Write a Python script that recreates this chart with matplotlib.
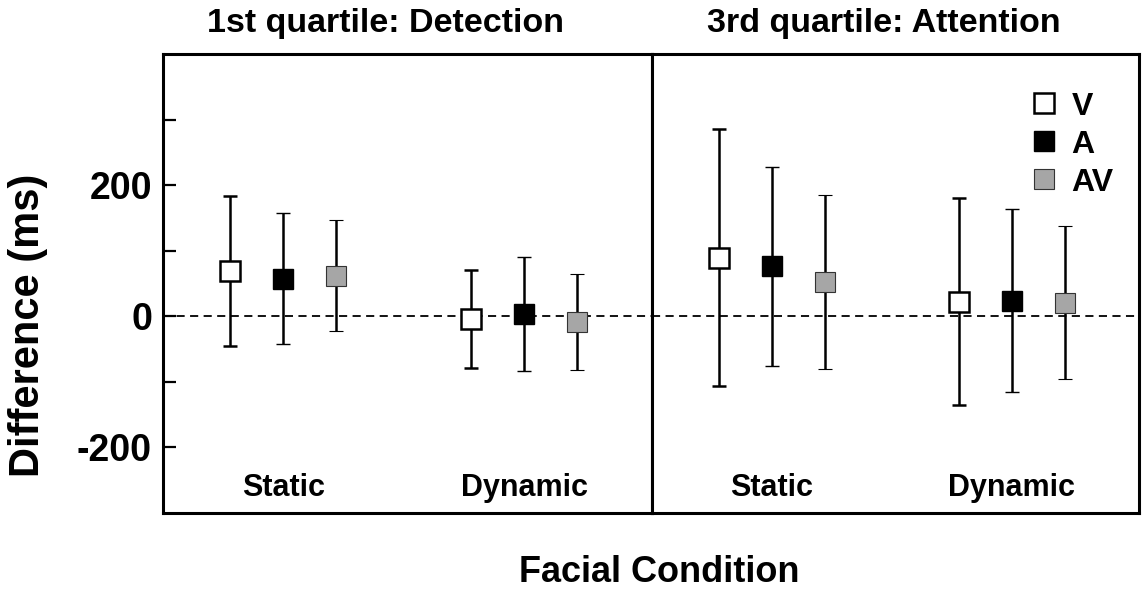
"""Difference in response time by facial condition, two quartile panels."""

import matplotlib

matplotlib.use("Agg")
import matplotlib.pyplot as plt
from matplotlib.lines import Line2D

plt.rcParams["font.family"] = ["Liberation Sans", "DejaVu Sans"]
plt.rcParams["font.weight"] = "bold"
plt.rcParams["axes.unicode_minus"] = False

conditions = ["Static", "Dynamic"]
groups = ["V", "A", "AV"]
offsets = [-0.22, 0.0, 0.22]

# 1st quartile (Detection): means and half-width of error bars, per group
q1_means = [[69, -4], [57, 3], [62, -9]]
q1_err = [[114, 75], [100, 87], [85, 73]]

# 3rd quartile (Attention)
q3_means = [[89, 22], [76, 24], [52, 21]]
q3_err = [[196, 158], [152, 140], [133, 117]]

panel_titles = ["1st quartile: Detection", "3rd quartile: Attention"]

face_colors = ["white", "black", "#a6a6a6"]
edge_colors = ["black", "black", "#333333"]
edge_widths = [1.8, 1.0, 0.8]


def draw_panel(ax, means, errs):
    xs = range(1, len(conditions) + 1)
    ax.axhline(0, color="black", lw=1.3, ls=(0, (4.5, 3)), zorder=1)
    for i in range(len(groups)):
        ax.errorbar(
            [x + offsets[i] for x in xs], means[i], yerr=errs[i],
            fmt="s", ms=15, mfc=face_colors[i], mec=edge_colors[i], mew=edge_widths[i],
            ecolor="black", elinewidth=1.8, capsize=5.2, capthick=2.0, zorder=3,
        )
    for x, name in zip(xs, conditions):
        ax.text(x, 0.037, name, transform=ax.get_xaxis_transform(),
                ha="center", va="baseline", fontsize=22, fontweight="bold")
    ax.set_xlim(0.5, 2.53)
    ax.set_ylim(-300, 400)
    ax.set_xticks([])
    for s in ax.spines.values():
        s.set_linewidth(2.2)


fig = plt.figure(figsize=(11.45, 5.96), dpi=100)
W, H = 1145, 596
ax1 = fig.add_axes([163 / W, 1 - 513 / H, (652 - 163) / W, (513 - 54) / H])
ax2 = fig.add_axes([652 / W, 1 - 513 / H, (1139 - 652) / W, (513 - 54) / H])

draw_panel(ax1, q1_means, q1_err)
draw_panel(ax2, q3_means, q3_err)

ax1.set_yticks([-200, 0, 200])
ax1.set_yticks([-100, 100, 300], minor=True)
ax1.tick_params(axis="y", which="both", direction="in", length=9.5, width=1.6,
                pad=8, labelsize=27)
ax1.tick_params(axis="y", which="minor", labelleft=False)
for lab in ax1.get_yticklabels():
    lab.set_fontweight("bold")
ax2.set_yticks([])

ax1.text(0.454, 1.048, panel_titles[0], transform=ax1.transAxes,
         ha="center", va="baseline", fontsize=24.5, fontweight="bold")
ax2.text(0.475, 1.048, panel_titles[1], transform=ax2.transAxes,
         ha="center", va="baseline", fontsize=24.5, fontweight="bold")

handles = [
    Line2D([0], [0], marker="s", ls="none", ms=15, mfc=face_colors[i],
           mec=edge_colors[i], mew=edge_widths[i], label=groups[i])
    for i in range(len(groups))
]
leg = ax2.legend(handles=handles, loc="upper left", bbox_to_anchor=(0.773, 0.918),
                 frameon=False, handlelength=1.0, handletextpad=0.35, labelspacing=0.25,
                 borderpad=0, borderaxespad=0, prop={"size": 23, "weight": "bold"})

fig.text(28 / W, 1 - 325 / H, "Difference (ms)", rotation=90, ha="center",
         va="center", fontsize=30, fontweight="bold")
fig.text(659 / W, 1 - 582 / H, "Facial Condition", ha="center", va="baseline",
         fontsize=26, fontweight="bold")

fig.savefig("out.png", dpi=100)
